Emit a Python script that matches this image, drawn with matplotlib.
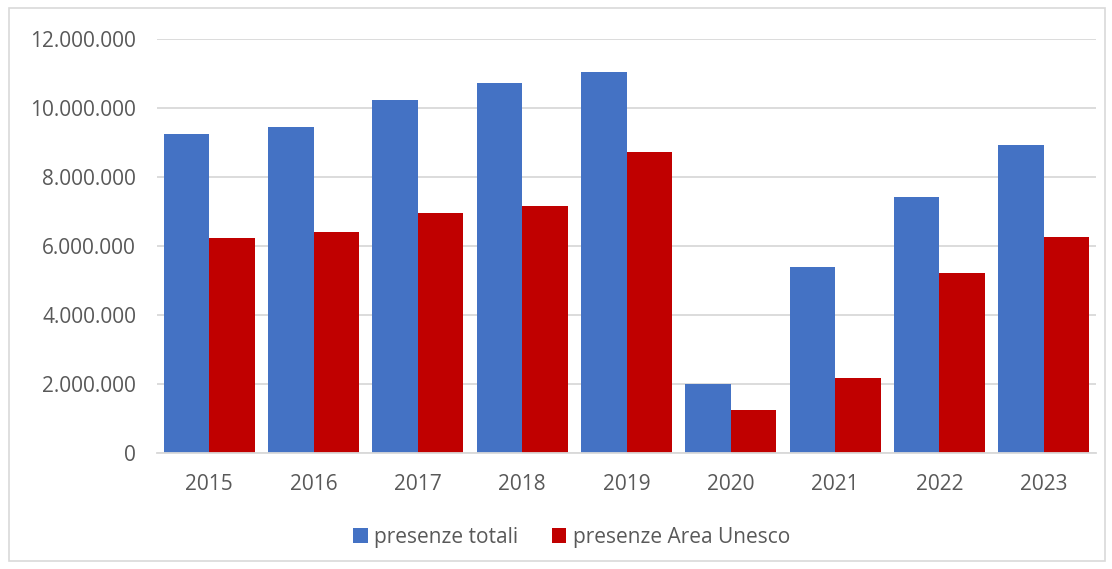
import matplotlib.pyplot as plt
from matplotlib.patches import Rectangle
from matplotlib.ticker import FuncFormatter
import numpy as np

plt.rcParams['font.family'] = ['Open Sans', 'DejaVu Sans']

years = ['2015', '2016', '2017', '2018', '2019', '2020', '2021', '2022', '2023']
presenze_totali = [9250000, 9450000, 10230000, 10720000, 11050000, 2000000, 5390000, 7430000, 8940000]
presenze_unesco = [6230000, 6400000, 6960000, 7160000, 8720000, 1240000, 2180000, 5220000, 6250000]

blue = '#4472C4'
red = '#C00000'
grey_text = '#595959'

fig = plt.figure(figsize=(11.12, 5.69), dpi=100)
ax = fig.add_axes([0.1412, 0.2039, 0.8444, 0.7276])

x = np.arange(len(years))
w = 0.436
ax.bar(x - w / 2, presenze_totali, w, color=blue, label='presenze totali')
ax.bar(x + w / 2, presenze_unesco, w, color=red, label='presenze Area Unesco')

ax.set_xlim(-0.5, len(years) - 0.5)
ax.set_ylim(0, 12000000)
ax.set_yticks(range(0, 12000001, 2000000))
ax.yaxis.set_major_formatter(FuncFormatter(lambda v, p: f'{int(v):,}'.replace(',', '.')))
ax.set_xticks(x)
ax.set_xticklabels(years)

ax.grid(axis='y', color='#d9d9d9', linewidth=1.3)
ax.set_axisbelow(True)
for s in ['top', 'right', 'left']:
    ax.spines[s].set_visible(False)
ax.spines['bottom'].set_color('#d9d9d9')
ax.spines['bottom'].set_linewidth(1.3)
ax.tick_params(axis='both', length=0, labelsize=15, colors=grey_text)
ax.tick_params(axis='y', pad=15)
ax.tick_params(axis='x', pad=15)

# chart border
fig.patches.append(Rectangle((0.008, 0.014), 0.986, 0.972, transform=fig.transFigure,
                             fill=False, edgecolor='#d9d9d9', linewidth=1.2))

fig.legend(loc='center', bbox_to_anchor=(0.514, 0.056), ncol=2, frameon=False,
           fontsize=15, labelcolor=grey_text, handlelength=0.7, handleheight=0.7,
           handletextpad=0.3, columnspacing=1.6)

fig.savefig('out.png', dpi=100)
